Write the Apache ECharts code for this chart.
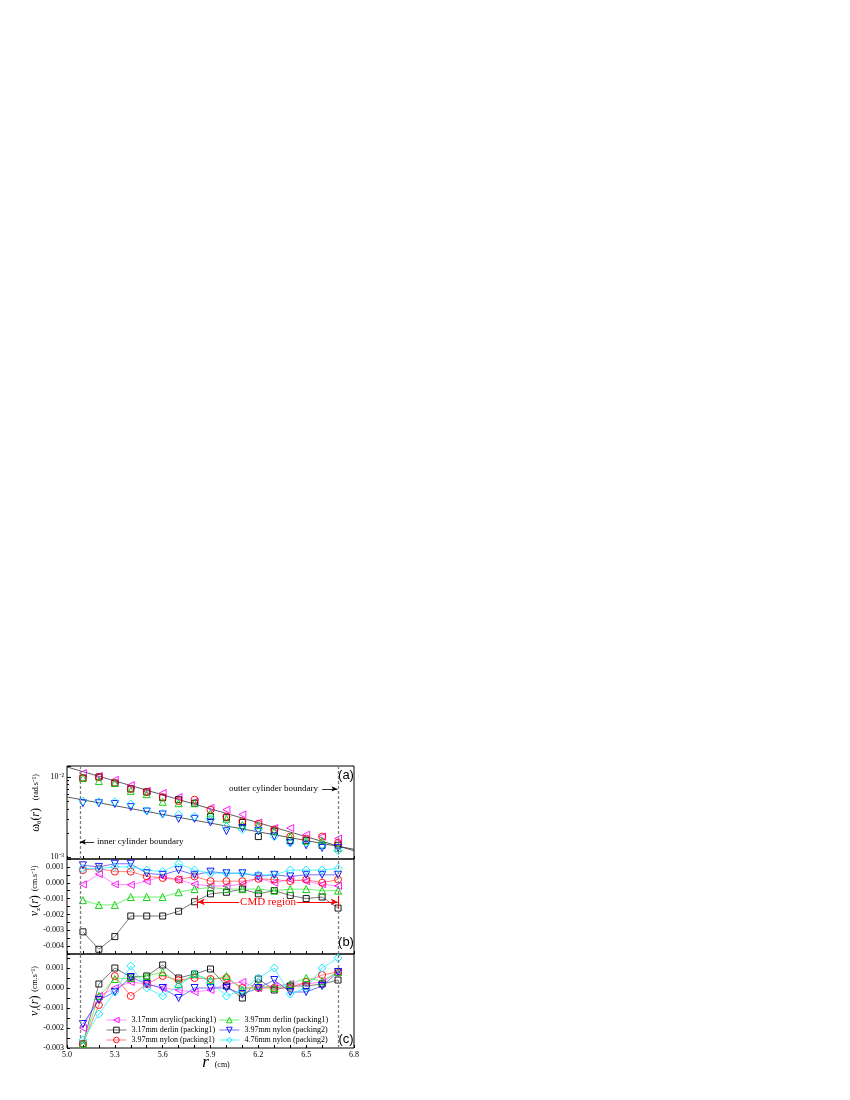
<!DOCTYPE html>
<html>
<head>
<meta charset="utf-8">
<script src="https://cdn.jsdelivr.net/npm/echarts@6/dist/echarts.min.js"></script>
<style>
  html, body { margin: 0; padding: 0; background: #fff; }
  #chart { width: 850px; height: 1100px; }
</style>
</head>
<body>
<div id="chart"></div>
<script>
// radial positions of the measurements (cm)
const radius = [5.1, 5.2, 5.3, 5.4, 5.5, 5.6, 5.7, 5.8, 5.9, 6.0, 6.1, 6.2, 6.3, 6.4, 6.5, 6.6, 6.7];

const names = [
  '3.17mm acrylic(packing1)',
  '3.17mm derlin (packing1)',
  '3.97mm nylon (packing1)',
  '3.97mm derlin (packing1)',
  '3.97mm nylon (packing2)',
  '4.76mm nylon (packing2)'
];

// (a) angular velocity omega_theta (rad/s)
const omegaAcrylic317 = [0.0112, 0.0103, 0.0092, 0.0079, 0.0067, 0.0063, 0.0056, 0.0049, 0.0041, 0.0039, 0.0034, 0.0027, 0.0023, 0.0023, 0.0019, 0.0018, 0.0017];
const omegaDerlin317  = [0.0097, 0.0100, 0.0084, 0.0071, 0.0065, 0.0055, 0.0052, 0.0047, 0.0032, 0.0031, 0.0027, 0.0018, 0.0021, 0.0016, 0.0016, 0.0014, 0.0014];
const omegaNylon397a  = [0.0097, 0.0100, 0.0084, 0.0071, 0.0065, 0.0056, 0.0050, 0.0052, 0.0039, 0.0032, 0.0028, 0.0026, 0.0022, 0.0018, 0.0017, 0.0018, 0.0015];
const omegaDerlin397  = [0.0097, 0.0089, 0.0084, 0.0067, 0.0061, 0.0049, 0.0047, 0.0047, 0.0035, 0.0030, 0.0025, 0.0025, 0.0021, 0.0018, 0.0016, 0.0016, 0.0013];
const omegaNylon397b  = [0.0047, 0.0047, 0.0046, 0.0042, 0.0037, 0.0034, 0.0030, 0.0030, 0.0027, 0.0021, 0.0023, 0.0021, 0.0018, 0.0015, 0.0014, 0.0013, 0.0013];
const omegaNylon476   = [0.0050, 0.0049, 0.0049, 0.0046, 0.0038, 0.0035, 0.0034, 0.0032, 0.0030, 0.0024, 0.0022, 0.0022, 0.0018, 0.0015, 0.0015, 0.0014, 0.0012];

// fitted lines in (a)
const fitR = [5.0, 6.8];
const fitUpper = [0.01334, 0.00120];
const fitLower = [0.00562, 0.00125];

// (b) axial velocity v_z (cm/s)
const vzAcrylic317 = [-0.0001, 0.00055, -0.0001, -0.00013, 0.0001, 0.0004, 0.0002, -0.0001, -0.0002, -0.0002, -0.0001, 0.0003, 0.0, 0.0002, 0.0001, -0.0001, -0.0002];
const vzDerlin317  = [-0.0031, -0.0042, -0.0034, -0.0021, -0.0021, -0.0021, -0.0018, -0.0012, -0.0007, -0.0006, -0.0004, -0.0007, -0.0005, -0.0008, -0.0010, -0.0009, -0.0016];
const vzNylon397a  = [0.0008, 0.0009, 0.0007, 0.0007, 0.0004, 0.0003, 0.0002, 0.0004, 0.0001, 0.0001, 0.0001, 0.00025, 0.0002, 0.0001, 0.0002, 0.0, 0.0002];
const vzDerlin397  = [-0.0011, -0.0014, -0.0014, -0.0009, -0.0009, -0.0009, -0.0006, -0.0004, -0.0003, -0.0004, -0.0004, -0.0004, -0.0005, -0.0004, -0.0004, -0.0005, -0.0005];
const vzNylon397b  = [0.0011, 0.0010, 0.0012, 0.0012, 0.0006, 0.0005, 0.0008, 0.0005, 0.0007, 0.0006, 0.0006, 0.0004, 0.0005, 0.0004, 0.0005, 0.0005, 0.0005];
const vzNylon476   = [0.0009, 0.0009, 0.0010, 0.0010, 0.0008, 0.0007, 0.0012, 0.0008, 0.0006, 0.0006, 0.0006, 0.0005, 0.0005, 0.0008, 0.0008, 0.0008, 0.0009];

// (c) radial velocity v_r (cm/s)
const vrAcrylic317 = [-0.0020, -0.0004, 0.0, 0.0003, 0.0002, 0.0, -0.0001, -0.0002, -0.0001, 0.0002, 0.0003, 0.0, 0.0001, 0.0002, 0.0002, 0.0003, 0.0008];
const vrDerlin317  = [-0.0028, 0.0002, 0.0010, 0.00055, 0.0006, 0.00115, 0.0005, 0.0007, 0.00095, 0.0001, -0.0005, 0.00045, -0.0001, 0.0001, 0.0001, 0.0002, 0.0004];
const vrNylon397a  = [-0.0028, -0.00085, 0.0006, -0.0004, 0.0002, 0.0006, 0.0004, 0.0005, 0.00045, 0.0005, 0.0, 0.0, 0.0, 0.0, 0.0003, 0.00065, 0.0008];
const vrDerlin397  = [-0.0028, -0.0004, 0.00045, 0.0005, 0.0006, 0.0008, 0.0002, 0.0007, 0.0004, 0.0006, -0.0001, 0.0001, 0.0, 0.0002, 0.0005, 0.00035, 0.0008];
const vrNylon397b  = [-0.0018, -0.0006, -0.0002, 0.00055, 0.0002, 0.0, -0.0005, 0.0, 0.0, 0.0, -0.0003, 0.0, 0.0004, -0.0002, -0.0002, 0.0001, 0.0008];
const vrNylon476   = [-0.0026, -0.0013, -0.0002, 0.0011, 0.0, -0.0004, 0.0001, 0.0007, 0.0003, -0.0004, -0.0001, 0.0005, 0.0010, -0.0003, 0.0, 0.0010, 0.0015];

// boundaries of the annulus and the CMD region (cm)
const innerBoundary = 5.075;
const outerBoundary = 6.70;
const cmdStart = 5.815;

// tick labels
const xLabels = [5.0, 5.3, 5.6, 5.9, 6.2, 6.5, 6.8];
const xTicks = [5.0, 5.1, 5.2, 5.3, 5.4, 5.5, 5.6, 5.7, 5.8, 5.9, 6.0, 6.1, 6.2, 6.3, 6.4, 6.5, 6.6, 6.7, 6.8];
const omegaMinor = [0.002, 0.003, 0.004, 0.005, 0.006, 0.007, 0.008, 0.009];
const vzLabels = [-0.004, -0.003, -0.002, -0.001, 0.0, 0.001];
const vzTicks = [-0.0045, -0.004, -0.0035, -0.003, -0.0025, -0.002, -0.0015, -0.001, -0.0005, 0.0, 0.0005, 0.001, 0.0015];
const vrLabels = [-0.003, -0.002, -0.001, 0.0, 0.001];
const vrTicks = [-0.003, -0.0025, -0.002, -0.0015, -0.001, -0.0005, 0.0, 0.0005, 0.001, 0.0015];

const omegaSets = [omegaAcrylic317, omegaDerlin317, omegaNylon397a, omegaDerlin397, omegaNylon397b, omegaNylon476];
const vzSets = [vzAcrylic317, vzDerlin317, vzNylon397a, vzDerlin397, vzNylon397b, vzNylon476];
const vrSets = [vrAcrylic317, vrDerlin317, vrNylon397a, vrDerlin397, vrNylon397b, vrNylon476];

const looks = [
  { symbol: 'triangle', rotate: 90, size: 7, color: '#ff00ff', line: '#ff70ff' },
  { symbol: 'rect', rotate: 0, size: 6, color: '#000000', line: '#555555' },
  { symbol: 'circle', rotate: 0, size: 7, color: '#ff0000', line: '#ff6060' },
  { symbol: 'triangle', rotate: 0, size: 7, color: '#00cc00', line: '#50ee50' },
  { symbol: 'triangle', rotate: 180, size: 7, color: '#0000ff', line: '#5050ff' },
  { symbol: 'diamond', rotate: 0, size: 8, color: '#00e5ff', line: '#30f0ff' }
];

const serif = 'Liberation Serif';
const panelLeft = 67, panelWidth = 287;

function pts(vals) {
  return radius.map((r, i) => [r, vals[i]]);
}

const dashedBounds = {
  silent: true,
  symbol: 'none',
  label: { show: false },
  lineStyle: { type: [3, 2], color: '#808080', width: 1.3 },
  data: [{ xAxis: innerBoundary }, { xAxis: outerBoundary }]
};

function makeSeries(k, vals, panel, withLine) {
  const lk = looks[k];
  return {
    name: names[k],
    type: 'line',
    xAxisIndex: panel,
    yAxisIndex: panel,
    data: pts(vals),
    symbol: lk.symbol,
    symbolRotate: lk.rotate,
    symbolSize: lk.size,
    showSymbol: true,
    lineStyle: { color: lk.line, width: withLine ? 0.8 : 0, opacity: withLine ? 1 : 0 },
    itemStyle: { color: 'rgba(255,255,255,0)', borderColor: lk.color, borderWidth: 0.9 },
    emphasis: { disabled: true },
    z: 3
  };
}

const series = [];
// panel c first so that the legend uses its line+marker icons
vrSets.forEach((v, k) => series.push(makeSeries(k, v, 2, true)));
vzSets.forEach((v, k) => series.push(makeSeries(k, v, 1, true)));
omegaSets.forEach((v, k) => series.push(makeSeries(k, v, 0, false)));

series[1].markLine = dashedBounds;
series[7].markLine = dashedBounds;

// CMD region arrows in (b)
const cmdY = -0.00121;
series[9].markLine = {
  silent: true,
  label: { show: false },
  symbol: ['none', 'arrow'],
  symbolSize: [5, 7],
  lineStyle: { type: 'solid', color: '#ff0000', width: 1 },
  data: [
    [{ coord: [6.08, cmdY] }, { coord: [cmdStart + 0.005, cmdY] }],
    [{ coord: [6.44, cmdY] }, { coord: [outerBoundary - 0.002, cmdY] }],
    [{ coord: [cmdStart, cmdY + 0.0004], symbol: 'none' }, { coord: [cmdStart, cmdY - 0.0004], symbol: 'none' }],
    [{ coord: [outerBoundary + 0.004, cmdY + 0.0004], symbol: 'none' }, { coord: [outerBoundary + 0.004, cmdY - 0.0004], symbol: 'none' }]
  ]
};

// fitted lines + boundary annotations in (a)
series.push({
  type: 'line', xAxisIndex: 0, yAxisIndex: 0, silent: true,
  data: fitR.map((r, i) => [r, fitUpper[i]]),
  symbol: 'none', lineStyle: { color: '#333', width: 0.8 }, z: 2,
  markLine: dashedBounds
});
series.push({
  type: 'line', xAxisIndex: 0, yAxisIndex: 0, silent: true,
  data: fitR.map((r, i) => [r, fitLower[i]]),
  symbol: 'none', lineStyle: { color: '#333', width: 0.8 }, z: 2,
  markLine: {
    silent: true,
    label: { show: false },
    symbol: ['none', 'arrow'],
    symbolSize: [4, 6],
    lineStyle: { type: 'solid', color: '#000', width: 0.8 },
    data: [
      [{ coord: [6.60, 0.0071] }, { coord: [outerBoundary - 0.004, 0.0071] }],
      [{ coord: [5.17, 0.00154] }, { coord: [innerBoundary + 0.006, 0.00154] }]
    ]
  }
});

const labelFont = { color: '#000', fontSize: 8, fontFamily: serif, margin: 3 };

function xAxisFor(panel, showLabels) {
  return {
    type: 'value', gridIndex: panel, min: 5.0, max: 6.8,
    axisLine: { show: false, onZero: false },
    splitLine: { show: false },
    axisTick: { inside: true, length: 3, customValues: xTicks, lineStyle: { color: '#000' } },
    axisLabel: Object.assign({ show: showLabels, customValues: xLabels, formatter: v => v.toFixed(1) }, labelFont)
  };
}

function yAxisLine() {
  return { show: false, onZero: false };
}

const legendBase = {
  orient: 'vertical', top: 1011,
  itemGap: 2, itemWidth: 20, itemHeight: 7, selectedMode: false,
  itemStyle: { color: 'rgba(255,255,255,0)', borderWidth: 0.9 },
  lineStyle: { width: 0.8 },
  textStyle: { fontFamily: serif, fontSize: 8, color: '#000' }
};

const option = {
  animation: false,
  backgroundColor: '#fff',
  grid: [
    { left: panelLeft, width: panelWidth, top: 766, height: 93, show: true, borderColor: '#000', borderWidth: 1 },
    { left: panelLeft, width: panelWidth, top: 859, height: 95, show: true, borderColor: '#000', borderWidth: 1 },
    { left: panelLeft, width: panelWidth, top: 954, height: 94, show: true, borderColor: '#000', borderWidth: 1 }
  ],
  xAxis: [xAxisFor(0, false), xAxisFor(1, false), xAxisFor(2, true)],
  yAxis: [
    {
      type: 'log', logBase: 10, gridIndex: 0, min: 0.000944, max: 0.01372,
      axisLine: yAxisLine(), splitLine: { show: false },
      axisTick: { inside: true, length: 4, lineStyle: { color: '#000' } },
      axisLabel: Object.assign({
        formatter: v => {
          const e = Math.log10(v);
          if (Math.abs(e - Math.round(e)) > 1e-6) return '';
          return Math.round(e) === -2 ? '10⁻²' : (Math.round(e) === -3 ? '10⁻³' : '');
        }
      }, labelFont)
    },
    {
      type: 'value', gridIndex: 1, min: -0.0045, max: 0.0015,
      axisLine: yAxisLine(), splitLine: { show: false },
      axisTick: { inside: true, length: 3, customValues: vzTicks, lineStyle: { color: '#000' } },
      axisLabel: Object.assign({ customValues: vzLabels, formatter: v => v.toFixed(3) }, labelFont)
    },
    {
      type: 'value', gridIndex: 2, min: -0.003, max: 0.0017,
      axisLine: yAxisLine(), splitLine: { show: false },
      axisTick: { inside: true, length: 3, customValues: vrTicks, lineStyle: { color: '#000' } },
      axisLabel: Object.assign({ customValues: vrLabels, formatter: v => v.toFixed(3) }, labelFont)
    },
    {
      // minor ticks of the log axis in (a)
      type: 'value', gridIndex: 0, position: 'left',
      min: Math.log10(0.000944), max: Math.log10(0.01372),
      axisLine: yAxisLine(), splitLine: { show: false },
      axisTick: { inside: true, length: 2, customValues: omegaMinor.map(Math.log10), lineStyle: { color: '#000' } },
      axisLabel: { show: false }
    }
  ],
  legend: [
    Object.assign({ data: names.slice(0, 3), left: 101 }, legendBase),
    Object.assign({ data: names.slice(3), left: 214 }, legendBase)
  ],
  series: series
};

const richName = {
  m: { fontFamily: serif, fontSize: 12, lineHeight: 14, fill: '#000' },
  i: { fontFamily: serif, fontSize: 12, fontStyle: 'italic', lineHeight: 14, fill: '#000' },
  s: { fontFamily: serif, fontSize: 7, lineHeight: 7, verticalAlign: 'bottom', fill: '#000' },
  u: { fontFamily: serif, fontSize: 8, lineHeight: 14, fill: '#000' },
  g: { fontSize: 7, lineHeight: 14 }
};

function axisTitle(text, x, y) {
  return {
    type: 'text', x: x, y: y, rotation: Math.PI / 2, silent: true,
    style: { text: text, rich: richName, align: 'center', verticalAlign: 'middle', fill: '#000' }
  };
}

function note(text, x, y, opts) {
  return {
    type: 'text', x: x, y: y, silent: true,
    style: Object.assign({ text: text, font: '9px "Liberation Serif"', fill: '#000', align: 'left', verticalAlign: 'middle' }, opts || {})
  };
}

option.graphic = [
  axisTitle('{m|ω}{s|θ}{m|(}{i|r}{m|)}{g|    }{u|(rad.s⁻¹)}', 36, 803),
  axisTitle('{i|v}{s|z}{m|(}{i|r}{m|)}{g|  }{u|(cm.s⁻¹)}', 35, 891),
  axisTitle('{i|v}{s|r}{m|(}{i|r}{m|)}{g|  }{u|(cm.s⁻¹)}', 35, 991),
  {
    type: 'text', x: 216, y: 1063, silent: true,
    style: {
      text: '{i|r}{g|   }{u|(cm)}', align: 'center', verticalAlign: 'middle',
      rich: {
        i: { fontFamily: serif, fontSize: 17, fontStyle: 'italic', fill: '#000' },
        g: { fontSize: 7 },
        u: { fontFamily: serif, fontSize: 8, fill: '#000', padding: [4, 0, 0, 0] }
      }
    }
  },
  note('outter cylinder boundary', 318, 789, { align: 'right' }),
  note('inner cylinder boundary', 97, 842),
  note('CMD region', 268, 902, { align: 'center', fill: '#ff0000', font: '11px "Liberation Serif"' }),
  note('(a)', 346, 775, { align: 'center', font: '13px "Liberation Sans"' }),
  note('(b)', 346, 942, { align: 'center', font: '13px "Liberation Sans"' }),
  note('(c)', 346, 1039, { align: 'center', font: '13px "Liberation Sans"' })
];

const chart = echarts.init(document.getElementById('chart'));
chart.setOption(option);
window.addEventListener('resize', chart.resize);
</script>
</body>
</html>
